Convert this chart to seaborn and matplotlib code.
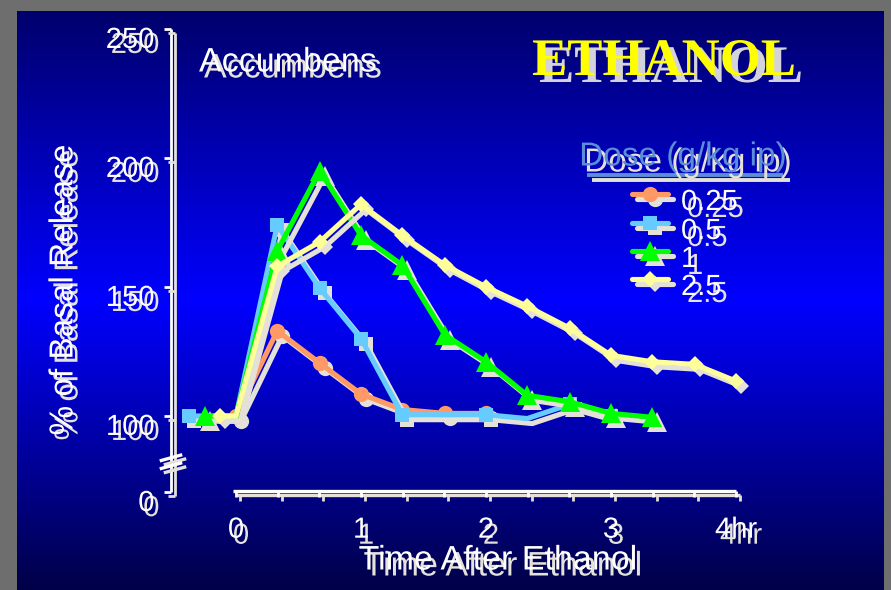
import numpy as np
import pandas as pd
import matplotlib
matplotlib.use("Agg")
import matplotlib.pyplot as plt
import matplotlib.patheffects as pe
from matplotlib.transforms import ScaledTranslation
from matplotlib.colors import LinearSegmentedColormap
import seaborn as sns

# ---- data: accumbens release (% of basal) vs time after ethanol (hr) ----
doses = ["0.25", "0.5", "1", "2.5"]

t_025 = [0.0, 0.33, 0.67, 1.0, 1.33, 1.67, 2.0]
v_025 = [100, 133, 120.5, 108.5, 102.5, 101, 101]

t_05 = [-0.375, 0.0, 0.33, 0.67, 1.0, 1.33, 2.0, 2.33, 2.67, 3.0]
v_05 = [100, 100, 174, 149.5, 130, 100.5, 100.5, 99, 104.5, 100]

t_1 = [-0.25, 0.0, 0.33, 0.67, 1.0, 1.33, 1.67, 2.0, 2.33, 2.67, 3.0, 3.33]
v_1 = [100, 100, 164, 195, 170, 158.5, 131.5, 121, 108, 105.5, 101, 99.5]

t_25 = [-0.125, 0.0, 0.33, 0.67, 1.0, 1.33, 1.67, 2.0, 2.33, 2.67, 3.0,
        3.33, 3.67, 4.0]
v_25 = [100, 100, 158, 167.5, 182, 170, 158.5, 150, 142.5, 134, 123.5,
        121, 120, 113.5]

y_ticks = [100, 150, 200, 250]
y_zero = 70.5          # position of the "0" tick below the axis break
x_ticks = [0, 1, 2, 3, 4]
x_labels = ["0", "1", "2", "3", "4hr"]

W, H, DPI = 891, 590, 100
SH = "#E4E1D8"           # drop-shadow colour
SANS = "Liberation Sans"
LW = 3.7

sns.set_style("white")
plt.rcParams["font.family"] = [SANS, "DejaVu Sans"]

fig = plt.figure(figsize=(W / DPI, H / DPI), dpi=DPI, facecolor="#6E6E6E")


def fx(px):
    return px / W


def fy(py):
    return 1 - py / H


def shadow_fx(dx=5, dy=5, color=SH, alpha=1.0):
    return [pe.withSimplePatchShadow(offset=(dx * 0.72, -dy * 0.72),
                                     shadow_rgbFace=color, alpha=alpha)]


# slide background with vertical blue gradient
bg = fig.add_axes([fx(17), 0, (884 - 17) / W, (H - 11) / H])
bg.set_axis_off()
cmap = LinearSegmentedColormap.from_list(
    "slide", [(0, "#00006C"), (0.5, "#0000FF"), (1, "#000048")])
bg.imshow(np.linspace(0, 1, 256)[:, None], aspect="auto", cmap=cmap,
          extent=(0, 1, 0, 1))

# main plotting axes
ax = fig.add_axes([fx(171), (H - 492.1) / H, 590 / W, 468.3 / H])
ax.set_facecolor("none")
for s in ax.spines.values():
    s.set_visible(False)


def shifted(dx=5, dy=5, base=None):
    base = ax.transData if base is None else base
    return base + ScaledTranslation(dx / DPI, -dy / DPI, fig.dpi_scale_trans)


X0 = -0.52
ax.set_xlim(X0, 4.2)
ax.set_ylim(y_zero, 252)


def deco(xs, ys, lw=2.0):
    ax.plot(xs, ys, color=SH, lw=lw, transform=shifted(4, 4), clip_on=False,
            solid_capstyle="butt")
    ax.plot(xs, ys, color="white", lw=lw, clip_on=False, solid_capstyle="butt")


# y axis with break
deco([X0, X0], [250, y_zero])
for v in y_ticks + [y_zero]:
    deco([X0 - 0.06, X0], [v, v])
for v in (83.8, 80.7):
    deco([X0 - 0.09, X0 + 0.09], [v - 1.2, v + 1.2], lw=2.4)

# x axis with 20-min ticks
deco([-0.025, 4.0], [71, 71], lw=2.4)
for t in np.arange(13) / 3:
    deco([t, t], [71, 68.6])

# ---- series (the t=0 baseline markers sit under the 0.25 circle) ----
series = [
    ("0.25", t_025, v_025, "#FF9966", "o", 11, None),
    ("0.5", t_05, v_05, "#66CCFF", "s", 10.5, [0, 2, 3, 4, 5, 6, 8, 9]),
    ("1", t_1, v_1, "#00FF00", "^", 14, [0] + list(range(2, 12))),
    ("2.5", t_25, v_25, "#FFFF99", "D", 8.5, [0] + list(range(2, 14))),
]

for name, ts, vs, col, mk, ms, mev in series:
    df = pd.DataFrame({"t": ts, "v": vs})
    for c, tr in ((SH, shifted(5, 5)), (col, ax.transData)):
        sns.lineplot(data=df, x="t", y="v", ax=ax, color=c, marker=mk,
                     markersize=ms, markeredgewidth=0, linewidth=LW,
                     markevery=mev, sort=False, estimator=None, legend=False,
                     transform=tr, clip_on=False)

ax.set_xlim(X0, 4.2)
ax.set_ylim(y_zero, 252)
ax.set_xlabel("")
ax.set_ylabel("")

ax.set_yticks([y_zero] + y_ticks, ["0"] + [str(v) for v in y_ticks])
ax.set_xticks(x_ticks, x_labels)
ax.tick_params(axis="y", length=0, pad=12, labelsize=21, labelcolor="white")
ax.tick_params(axis="x", length=0, pad=17, labelsize=21, labelcolor="white")
for lab in ax.get_yticklabels():
    lab.set_path_effects(shadow_fx(5, 5))
    lab.set_transform(lab.get_transform() +
                      ScaledTranslation(0, -8 / DPI, fig.dpi_scale_trans))
for lab in ax.get_xticklabels():
    lab.set_path_effects(shadow_fx(5, 6))

# ---- legend ----
fig.text(fx(683), fy(157), "Dose (g/kg ip)", ha="center", va="center",
         fontsize=24, color="#5B8DD9", path_effects=shadow_fx(5, 6))
ftr = fig.transFigure
ax.plot([fx(592), fx(790)], [fy(180)] * 2, color=SH, lw=2.8, transform=ftr,
        clip_on=False, solid_capstyle="butt")
ax.plot([fx(587), fx(783)], [fy(175)] * 2, color="#5B8DD9", lw=2.8,
        transform=ftr, clip_on=False, solid_capstyle="butt")

rows = [194, 223, 251, 279]
for (name, ts, vs, col, mk, ms, mev), ry in zip(series, rows):
    hx = [fx(632), fx(650), fx(668)]
    hy = [fy(ry)] * 3
    ax.plot(hx, hy, color=SH, lw=LW, marker=mk, markersize=ms,
            markeredgewidth=0, markevery=[1], clip_on=False,
            transform=shifted(5, 5, ftr))
    ax.plot(hx, hy, color=col, lw=LW, marker=mk, markersize=ms,
            markeredgewidth=0, markevery=[1], clip_on=False, transform=ftr)
    fig.text(fx(681), fy(ry + 8), name, ha="left", va="center", fontsize=21,
             color="white", path_effects=shadow_fx(6, 7))

# ---- titles ----
fig.text(fx(199), fy(63), "Accumbens", ha="left", va="center", fontsize=24.5,
         color="white", path_effects=shadow_fx(5, 6))
fig.text(fx(664), fy(62), "ETHANOL", ha="center", va="center", fontsize=38,
         family=["Liberation Serif", "DejaVu Serif"], fontweight="bold",
         color="#FFFF00", path_effects=shadow_fx(7, 7, "#D4D2DA"))
fig.text(fx(64), fy(290), "% of Basal Release", ha="center", va="center",
         rotation=90, fontsize=24, color="white", path_effects=shadow_fx(5, 5))
fig.text(fx(498), fy(561), "Time After Ethanol", ha="center", va="center",
         fontsize=24.5, color="white", path_effects=shadow_fx(5, 6))

fig.savefig("out.png", dpi=DPI, facecolor=fig.get_facecolor())
